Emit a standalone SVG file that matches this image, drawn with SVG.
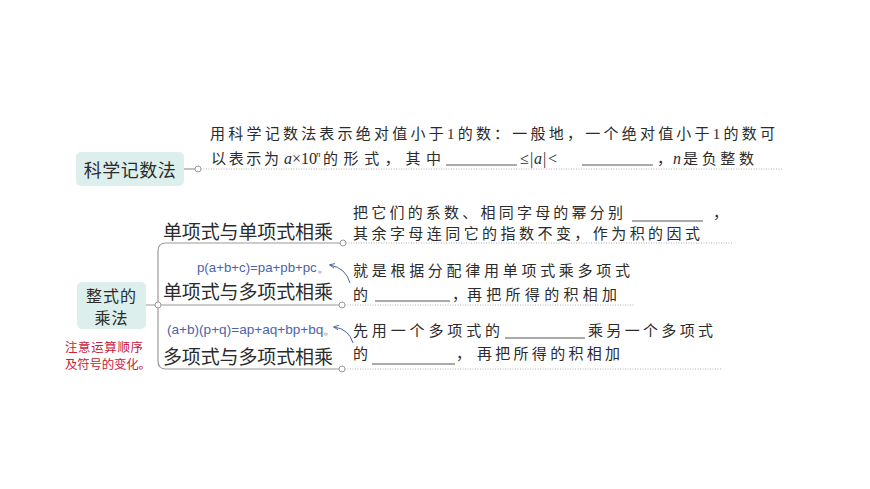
<svg xmlns="http://www.w3.org/2000/svg" width="870" height="489" viewBox="0 0 870 489">
<style>
.bg{fill:#ffffff}
.box{fill:#dcefec}
.lbl{font-family:"Noto Sans CJK SC","Noto Sans",sans-serif;fill:#2b2b2b}
.body{font-family:"Liberation Serif","Noto Sans CJK SC",serif;font-size:15px;fill:#2b2b2b}
.it{font-family:"Liberation Serif",serif;font-style:italic;font-size:16px;fill:#2b2b2b}
.lat{font-family:"Liberation Serif",serif;font-size:16px;fill:#2b2b2b}
.sup{font-family:"Liberation Serif",serif;font-style:italic;font-size:9px;fill:#2b2b2b}
.line{fill:none;stroke:#9a9a9a;stroke-width:1.2}
.dot{fill:none;stroke:#b0b0b0;stroke-width:1;stroke-dasharray:1 1.5}
.knob{fill:#ffffff;stroke:#9a9a9a;stroke-width:1}
.blank{stroke:#555;stroke-width:1}
.hand{font-family:"Liberation Sans",sans-serif;font-size:13px;fill:#4a64aa}
.red{font-family:"Noto Sans CJK SC",sans-serif;font-size:12.5px;fill:#c8213a}
.arr{fill:none;stroke:#4a64aa;stroke-width:1}
</style>
<defs>
<marker id="ah" viewBox="0 0 10 10" refX="8" refY="5" markerWidth="6" markerHeight="6" orient="auto">
<path d="M0,1 L9,5 L0,9" fill="none" stroke="#4a64aa" stroke-width="1.5"/>
</marker>
</defs>
<rect class="bg" x="0" y="0" width="870" height="489"/>

<g id="connectors">
<path class="line" d="M184,169 H195"/>
<path class="dot" d="M201,169 H783"/>
<path class="line" d="M146,305 H339"/>
<path class="line" d="M340,243 H166 Q158,243 158,251 V361 Q158,369 166,369 H339"/>
<path class="dot" d="M346,243 H733"/>
<path class="dot" d="M345,305 H635"/>
<path class="dot" d="M345,369 H722"/>
<circle class="knob" cx="198" cy="169" r="3"/>
<circle class="knob" cx="158" cy="305" r="3"/>
<circle class="knob" cx="343" cy="243" r="3"/>
<circle class="knob" cx="342" cy="305" r="3"/>
<circle class="knob" cx="342" cy="369" r="3"/>
<path class="arr" d="M350,283 Q346,268 330,265" marker-end="url(#ah)"/>
<path class="arr" d="M353,343 Q349,329 334,327" marker-end="url(#ah)"/>
</g>

<g id="node-kexue">
<rect class="box" x="76" y="152" width="108" height="34" rx="5"/>
<text class="lbl" x="130" y="176.5" font-size="18" text-anchor="middle" letter-spacing="0.5">科学记数法</text>
</g>

<g id="text-kexue">
<text class="body" x="210" y="139" textLength="565" lengthAdjust="spacing">用科学记数法表示绝对值小于1的数：一般地，一个绝对值小于1的数可</text>
<text class="body" x="211" y="164" textLength="68" lengthAdjust="spacing">以表示为</text>
<text class="it" x="284" y="164">a</text>
<text class="lat" x="292" y="164">×10</text>
<text class="sup" x="316" y="157">n</text>
<text class="body" x="323" y="164" textLength="118" lengthAdjust="spacing">的形式，其中</text>
<line class="blank" x1="446" y1="165" x2="517" y2="165"/>
<text class="lat" x="520" y="164">≤</text>
<text class="lat" x="530" y="164">|</text>
<text class="it" x="534" y="164">a</text>
<text class="lat" x="543" y="164">|</text>
<text class="lat" x="548" y="164">&lt;</text>
<line class="blank" x1="582" y1="165" x2="653" y2="165"/>
<text class="body" x="657" y="164">，</text>
<text class="it" x="673" y="164">n</text>
<text class="body" x="683" y="164" textLength="71" lengthAdjust="spacing">是负整数</text>
</g>

<g id="node-zhengshi">
<rect class="box" x="77" y="282" width="69" height="47" rx="5"/>
<text class="lbl" x="111.5" y="301.5" font-size="16" text-anchor="middle" letter-spacing="1">整式的</text>
<text class="lbl" x="111.5" y="324" font-size="16" text-anchor="middle" letter-spacing="1">乘法</text>
<text class="red" x="65" y="351.5" textLength="78" lengthAdjust="spacing">注意运算顺序</text>
<text class="red" x="65" y="369" textLength="86" lengthAdjust="spacing">及符号的变化。</text>
</g>

<g id="node-dan-dan">
<text class="lbl" x="163" y="238.5" font-size="19" textLength="170" lengthAdjust="spacing">单项式与单项式相乘</text>
<text class="body" x="353" y="218" textLength="270" lengthAdjust="spacing">把它们的系数、相同字母的幂分别</text>
<line class="blank" x1="632" y1="221" x2="703" y2="221"/>
<text class="body" x="713" y="218">，</text>
<text class="body" x="353" y="239" textLength="347" lengthAdjust="spacing">其余字母连同它的指数不变，作为积的因式</text>
</g>

<g id="node-dan-duo">
<text class="hand" x="197" y="272" textLength="133" lengthAdjust="spacingAndGlyphs">p(a+b+c)=pa+pb+pc。</text>
<text class="lbl" x="163" y="298.5" font-size="19" textLength="170" lengthAdjust="spacing">单项式与多项式相乘</text>
<text class="body" x="353" y="276" textLength="277" lengthAdjust="spacing">就是根据分配律用单项式乘多项式</text>
<text class="body" x="353" y="300">的</text>
<line class="blank" x1="375" y1="301" x2="450" y2="301"/>
<text class="body" x="452" y="300">，</text>
<text class="body" x="467" y="300" textLength="150" lengthAdjust="spacing">再把所得的积相加</text>
</g>

<g id="node-duo-duo">
<text class="hand" x="167" y="334" textLength="170" lengthAdjust="spacingAndGlyphs">(a+b)(p+q)=ap+aq+bp+bq。</text>
<text class="lbl" x="163" y="363.5" font-size="19" textLength="170" lengthAdjust="spacing">多项式与多项式相乘</text>
<text class="body" x="353" y="336" textLength="147" lengthAdjust="spacing">先用一个多项式的</text>
<line class="blank" x1="505" y1="338" x2="585" y2="338"/>
<text class="body" x="588" y="336" textLength="125" lengthAdjust="spacing">乘另一个多项式</text>
<text class="body" x="353" y="359">的</text>
<line class="blank" x1="372" y1="364" x2="455" y2="364"/>
<text class="body" x="456" y="359">，</text>
<text class="body" x="477" y="359" textLength="143" lengthAdjust="spacing">再把所得的积相加</text>
</g>
</svg>
